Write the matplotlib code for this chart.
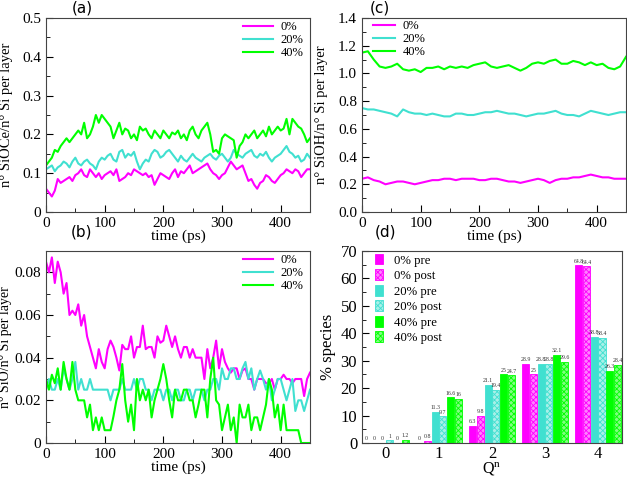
import numpy as np
import matplotlib.pyplot as plt
from matplotlib.ticker import MultipleLocator

plt.rcParams['font.family'] = 'Liberation Serif'
plt.rcParams['hatch.linewidth'] = 0.6

# ---- panel (a): SiOCe per Si, sampled every 5 ps
mag_a = [0.06, 0.05, 0.04, 0.055, 0.085, 0.075, 0.08, 0.085, 0.09, 0.08,
         0.095, 0.10, 0.11, 0.095, 0.09, 0.11, 0.10, 0.09, 0.10, 0.085,
         0.095, 0.10, 0.105, 0.095, 0.11, 0.08, 0.085, 0.09, 0.10, 0.095,
         0.11, 0.105, 0.10, 0.095, 0.10, 0.09, 0.095, 0.07, 0.085, 0.10,
         0.095, 0.09, 0.085, 0.10, 0.11, 0.09, 0.105, 0.10, 0.11, 0.12,
         0.10, 0.105, 0.11, 0.115, 0.12, 0.125, 0.11, 0.10, 0.095, 0.085,
         0.095, 0.10, 0.115, 0.13, 0.12, 0.11, 0.115, 0.12, 0.10, 0.08,
         0.085, 0.07, 0.06, 0.075, 0.08, 0.095, 0.09, 0.08, 0.075, 0.085,
         0.095, 0.10, 0.11, 0.105, 0.10, 0.11, 0.105, 0.09, 0.10, 0.11, 0.11]
cyan_a = [0.11, 0.115, 0.12, 0.105, 0.115, 0.12, 0.13, 0.125, 0.115, 0.13,
          0.14, 0.125, 0.12, 0.13, 0.135, 0.125, 0.12, 0.11, 0.13, 0.14,
          0.135, 0.145, 0.15, 0.135, 0.13, 0.155, 0.16, 0.14, 0.15, 0.145,
          0.155, 0.13, 0.11, 0.125, 0.135, 0.13, 0.15, 0.16, 0.155, 0.14,
          0.145, 0.155, 0.16, 0.15, 0.14, 0.13, 0.145, 0.135, 0.13, 0.14,
          0.15, 0.14, 0.135, 0.13, 0.14, 0.145, 0.15, 0.14, 0.135, 0.145,
          0.15, 0.14, 0.13, 0.14, 0.16, 0.15, 0.145, 0.14, 0.15, 0.155,
          0.16, 0.145, 0.14, 0.15, 0.145, 0.155, 0.14, 0.13, 0.14, 0.145,
          0.15, 0.16, 0.17, 0.155, 0.15, 0.14, 0.145, 0.13, 0.135, 0.15, 0.14]
green_a = [0.12, 0.13, 0.14, 0.16, 0.155, 0.17, 0.18, 0.19, 0.18, 0.19,
           0.20, 0.21, 0.20, 0.23, 0.19, 0.20, 0.22, 0.25, 0.23, 0.25,
           0.24, 0.23, 0.22, 0.19, 0.21, 0.23, 0.20, 0.215, 0.21, 0.19,
           0.20, 0.185, 0.22, 0.21, 0.215, 0.20, 0.19, 0.21, 0.20, 0.19,
           0.21, 0.20, 0.19, 0.205, 0.20, 0.21, 0.19, 0.20, 0.185, 0.21,
           0.22, 0.20, 0.19, 0.21, 0.22, 0.23, 0.20, 0.155, 0.16, 0.15,
           0.19, 0.20, 0.195, 0.19, 0.185, 0.14, 0.17, 0.18, 0.20, 0.19,
           0.20, 0.21, 0.19, 0.20, 0.21, 0.195, 0.22, 0.20, 0.21, 0.22,
           0.21, 0.215, 0.24, 0.20, 0.24, 0.23, 0.22, 0.215, 0.20, 0.18, 0.19]

# ---- panel (b): SiO per Si, sampled every 5 ps
mag_b = [0.085, 0.08, 0.087, 0.075, 0.085, 0.08, 0.07, 0.075, 0.06, 0.062,
         0.06, 0.065, 0.055, 0.06, 0.05, 0.045, 0.04, 0.035, 0.044, 0.038,
         0.035, 0.044, 0.048, 0.045, 0.04, 0.034, 0.046, 0.044, 0.044, 0.05,
         0.04, 0.045, 0.045, 0.055, 0.044, 0.045, 0.045, 0.04, 0.05, 0.047,
         0.048, 0.055, 0.05, 0.045, 0.05, 0.044, 0.04, 0.045, 0.045, 0.04,
         0.044, 0.04, 0.04, 0.04, 0.03, 0.044, 0.035, 0.04, 0.048, 0.035,
         0.044, 0.038, 0.035, 0.033, 0.035, 0.035, 0.03, 0.034, 0.035, 0.03,
         0.03, 0.025, 0.03, 0.03, 0.03, 0.028, 0.028, 0.03, 0.025, 0.03,
         0.03, 0.032, 0.03, 0.03, 0.028, 0.03, 0.03, 0.03, 0.022, 0.03, 0.033]
cyan_b = [0.025, 0.03, 0.025, 0.025, 0.03, 0.025, 0.035, 0.03, 0.025, 0.03,
          0.038, 0.025, 0.03, 0.025, 0.025, 0.03, 0.025, 0.025, 0.025, 0.025,
          0.025, 0.025, 0.02, 0.025, 0.025, 0.025, 0.03, 0.025, 0.025, 0.025,
          0.03, 0.025, 0.03, 0.03, 0.025, 0.025, 0.02, 0.025, 0.025, 0.025,
          0.02, 0.025, 0.025, 0.02, 0.025, 0.025, 0.02, 0.02, 0.025, 0.025,
          0.02, 0.025, 0.025, 0.025, 0.02, 0.025, 0.025, 0.03, 0.03, 0.025,
          0.035, 0.03, 0.03, 0.035, 0.035, 0.03, 0.03, 0.035, 0.038, 0.03,
          0.035, 0.025, 0.03, 0.034, 0.03, 0.025, 0.03, 0.02, 0.025, 0.03,
          0.03, 0.025, 0.02, 0.025, 0.03, 0.015, 0.02, 0.02, 0.015, 0.02, 0.025]
green_b = [0.03, 0.025, 0.032, 0.028, 0.035, 0.025, 0.038, 0.03, 0.025, 0.038,
           0.025, 0.02, 0.02, 0.02, 0.012, 0.018, 0.006, 0.012, 0.006, 0.012,
           0.006, 0.006, 0.006, 0.0125, 0.02, 0.025, 0.037, 0.02, 0.01, 0.018,
           0.006, 0.03, 0.02, 0.025, 0.02, 0.025, 0.012, 0.02, 0.025, 0.03,
           0.037, 0.03, 0.02, 0.012, 0.025, 0.02, 0.02, 0.025, 0.025, 0.02,
           0.02, 0.012, 0.018, 0.025, 0.025, 0.012, 0.03, 0.04, 0.02, 0.018,
           0.006, 0.012, 0.018, 0.006, 0.012, 0.0, 0.018, 0.012, 0.012, 0.018,
           0.006, 0.012, 0.012, 0.006, 0.012, 0.018, 0.03, 0.025, 0.012, 0.018,
           0.006, 0.018, 0.006, 0.006, 0.006, 0.006, 0.006, 0.0, 0.0, 0.0, 0.0]

# ---- panel (c): SiOH per Si, sampled every 10 ps
mag_c = [0.24, 0.25, 0.23, 0.22, 0.20, 0.21, 0.22, 0.22, 0.21, 0.20,
         0.21, 0.22, 0.23, 0.23, 0.24, 0.24, 0.23, 0.24, 0.24, 0.24,
         0.23, 0.23, 0.24, 0.24, 0.23, 0.22, 0.22, 0.21, 0.22, 0.23,
         0.24, 0.23, 0.21, 0.23, 0.24, 0.24, 0.25, 0.25, 0.26, 0.27,
         0.26, 0.25, 0.25, 0.24, 0.24, 0.24]
cyan_c = [0.75, 0.74, 0.74, 0.73, 0.72, 0.71, 0.69, 0.74, 0.72, 0.71,
          0.71, 0.70, 0.71, 0.70, 0.69, 0.69, 0.71, 0.71, 0.70, 0.70,
          0.71, 0.72, 0.72, 0.73, 0.72, 0.71, 0.71, 0.70, 0.69, 0.70,
          0.71, 0.71, 0.72, 0.73, 0.71, 0.70, 0.70, 0.69, 0.71, 0.73,
          0.72, 0.71, 0.70, 0.71, 0.72, 0.72]
green_c = [1.15, 1.16, 1.10, 1.05, 1.04, 1.05, 1.07, 1.03, 1.02, 1.03,
           1.01, 1.04, 1.04, 1.05, 1.03, 1.05, 1.04, 1.05, 1.04, 1.06,
           1.07, 1.08, 1.05, 1.04, 1.05, 1.06, 1.04, 1.02, 1.04, 1.07,
           1.08, 1.07, 1.09, 1.10, 1.07, 1.07, 1.09, 1.08, 1.06, 1.08,
           1.06, 1.07, 1.04, 1.03, 1.05, 1.12]

# ---- panel (d): Qn species
qn = [0, 1, 2, 3, 4]
bar_labels = ['0% pre', '0% post', '20% pre', '20% post', '40% pre', '40% post']
q_0pre = [0, 0, 6.3, 28.9, 64.8]
q_0post = [0, 0.8, 9.8, 25, 64.4]
q_20pre = [0, 11.3, 21.1, 28.8, 38.8]
q_20post = [1, 9.7, 19.4, 28.8, 38.4]
q_40pre = [0, 16.6, 25, 32.1, 26.3]
q_40post = [1.2, 16, 24.7, 29.6, 28.4]

MAG = '#ff00ff'
CYA = '#40e0d0'
GRN = '#00ff00'
series_labels = ['0%', '20%', '40%']

fig = plt.figure(figsize=(6.27, 4.79), dpi=100)
W, H = 627, 479
def add_ax(l, t, r, b):
    return fig.add_axes([l / W, 1 - b / H, (r - l) / W, (b - t) / H])

ax_a = add_ax(46, 18, 310, 212)
ax_c = add_ax(362, 18, 626, 212)
ax_b = add_ax(46, 251, 310, 443)
ax_d = add_ax(362, 251, 622, 443)

def style(ax):
    ax.tick_params(which='both', direction='in', top=False, right=False, labelsize=11)
    ax.tick_params(which='major', length=5)
    ax.tick_params(which='minor', length=3)
    for s in ax.spines.values():
        s.set_linewidth(0.8)
        s.set_color('#444444')

def time_axes(ax, ys, ylim, ymaj, ymin, ylabel, ylab_x, loc, anchor, hl, yfs=10.5):
    for y, c, lab in zip(ys, [MAG, CYA, GRN], series_labels):
        t = np.linspace(0, 450, len(y))
        ax.plot(t, y, color=c, lw=1.5, label=lab)
    ax.set_xlim(0, 450)
    ax.set_ylim(*ylim)
    ax.xaxis.set_major_locator(MultipleLocator(100))
    ax.xaxis.set_minor_locator(MultipleLocator(50))
    ax.yaxis.set_major_locator(MultipleLocator(ymaj))
    ax.yaxis.set_minor_locator(MultipleLocator(ymin))
    ax.set_xlabel('time (ps)', fontsize=11, labelpad=0)
    ax.set_ylabel(ylabel, fontsize=yfs)
    ax.yaxis.set_label_coords(ylab_x, 0.5)
    style(ax)
    ax.legend(loc=loc, bbox_to_anchor=anchor, frameon=False, fontsize=9,
              handlelength=hl, handletextpad=0.6, labelspacing=0.1,
              borderaxespad=0.0, borderpad=0.0)

time_axes(ax_a, [mag_a, cyan_a, green_a], (0, 0.5), 0.1, 0.05,
          'n° SiOCe/n° Si per layer', -0.125, 'upper right', (0.975, 0.985), 2.4)
ax_a.yaxis.set_major_formatter(lambda v, p: '0' if v == 0 else f'{v:.1f}')
time_axes(ax_c, [mag_c, cyan_c, green_c], (0, 1.4), 0.2, 0.1,
          'n° SiOH/n° Si per layer', -0.13, 'upper left', (0.04, 0.99), 1.8)
time_axes(ax_b, [mag_b, cyan_b, green_b], (0, 0.09), 0.02, 0.01,
          'n° SiO/n° Si per layer', -0.128, 'upper right', (0.975, 0.985), 2.4,
          yfs=10)
ax_b.yaxis.set_major_formatter(lambda v, p: '0' if v == 0 else f'{v:.2f}')

# bar chart
groups = [q_0pre, q_0post, q_20pre, q_20post, q_40pre, q_40post]
face = [MAG, '#ff80ff', CYA, '#a8f0e8', GRN, '#80ff80']
edge = [MAG, MAG, CYA, CYA, GRN, GRN]
hatch = [None, 'xxxxxx', None, 'xxxxxx', None, 'xxxxxx']
bw = 0.146
x = np.array(qn)
for i, (vals, lab) in enumerate(zip(groups, bar_labels)):
    pos = x + (i - 2.5) * bw
    ax_d.bar(pos, vals, width=bw * 0.92, color=face[i], edgecolor=edge[i],
             hatch=hatch[i], linewidth=0.6, label=lab)
    for p, v in zip(pos, vals):
        ax_d.text(p, v + 0.6, f'{v:g}', ha='center', va='bottom', fontsize=4.2,
                  color='#333333')
ax_d.set_xlim(-0.45, 4.45)
ax_d.set_ylim(0, 70)
ax_d.set_xticks(qn)
ax_d.yaxis.set_major_locator(MultipleLocator(10))
ax_d.yaxis.set_minor_locator(MultipleLocator(5))
ax_d.set_xlabel('Q$^{\\mathregular{n}}$', fontsize=11.5, labelpad=-1.5)
ax_d.set_ylabel('% species', fontsize=12)
ax_d.yaxis.set_label_coords(-0.1, 0.5)
style(ax_d)
ax_d.tick_params(axis='x', which='both', length=0, pad=2, labelsize=12)
ax_d.tick_params(axis='y', labelsize=12)
ax_d.legend(loc='upper left', bbox_to_anchor=(0.05, 0.985), frameon=False,
            fontsize=9.2, handlelength=0.6, handleheight=0.9, handletextpad=0.9,
            labelspacing=0.22, borderaxespad=0.0, borderpad=0.0)

for lab, (px, py) in zip(['(a)', '(b)', '(c)', '(d)'],
                         [(82, 8), (82, 232), (380, 8), (385, 232)]):
    fig.text(px / W, 1 - py / H, lab, ha='center', va='center',
             fontsize=11, family='DejaVu Sans')

fig.savefig('out.png', dpi=100)
